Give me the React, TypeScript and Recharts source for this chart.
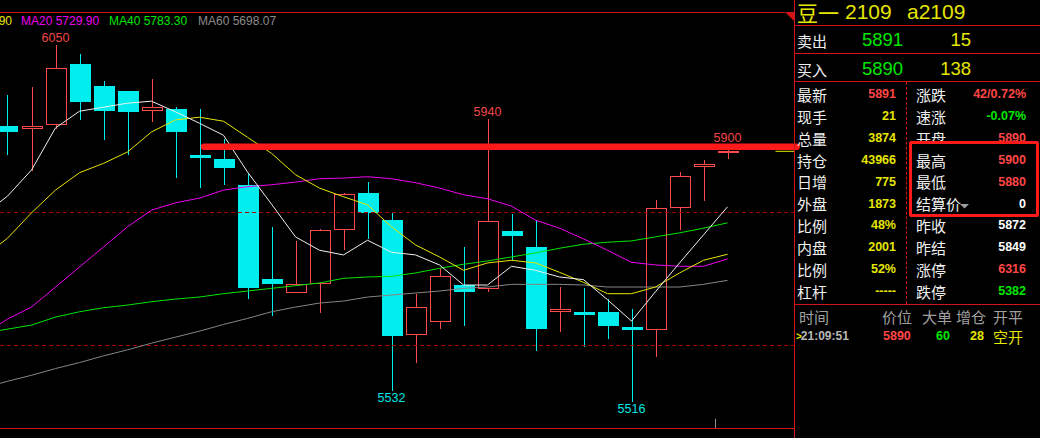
import React from "react";
import {
  ComposedChart,
  Bar,
  Line,
  XAxis,
  YAxis,
  ReferenceLine,
  ReferenceDot,
} from "recharts";

// slot -1 holds only the moving averages that run in from the left edge
const slots = [-1, 0, 1, 2, 3, 4, 5, 6, 7, 8, 9, 10, 11, 12, 13, 14, 15, 16, 17, 18, 19, 20, 21, 22, 23, 24, 25, 26, 27, 28, 29, 30];

const open = [5929, 5925, 5931, 6022, 5989, 5981, 5951, 5954, 5885, 5880, 5841, 5700, 5679, 5693, 5773, 5828, 5788, 5616, 5635, 5691, 5685, 5772, 5748, 5650, 5651, 5651, 5628, 5623, 5806, 5868, 5890];
const high = [5975, 5987, 6050, 6037, 5996, 5981, 5999, 5957, 5955, 5910, 5857, 5778, 5757, 5775, 5828, 5845, 5800, 5677, 5716, 5748, 5940, 5797, 5787, 5688, 5686, 5670, 5655, 5818, 5860, 5878, 5900];
const low = [5885, 5862, 5925, 5938, 5908, 5885, 5935, 5851, 5836, 5841, 5670, 5644, 5679, 5649, 5743, 5760, 5532, 5575, 5625, 5630, 5681, 5728, 5593, 5621, 5599, 5610, 5516, 5584, 5773, 5816, 5880];
const close = [5920, 5929, 6016, 5965, 5952, 5950, 5957, 5920, 5881, 5866, 5687, 5692, 5693, 5773, 5827, 5799, 5614, 5658, 5705, 5680, 5787, 5765, 5625, 5655, 5646, 5629, 5623, 5806, 5854, 5872, 5891];

const ma5 = [5796, 5824, 5863, 5926, 5951, 5957, 5963, 5966, 5950, 5933, 5915, 5860, 5812, 5763, 5743, 5736, 5758, 5740, 5736, 5721, 5691, 5691, 5719, 5713, 5703, 5699, 5669, 5637, 5681, 5724, 5766, 5808];
const ma10 = [5733, 5761, 5799, 5833, 5859, 5873, 5890, 5920, 5938, 5942, 5936, 5912, 5888, 5856, 5836, 5823, 5811, 5778, 5751, 5733, 5713, 5724, 5728, 5724, 5710, 5695, 5678, 5678, 5688, 5709, 5728, 5737];
const ma20 = [5617, 5640, 5658, 5688, 5718, 5748, 5778, 5803, 5814, 5821, 5833, 5838, 5841, 5845, 5850, 5851, 5853, 5850, 5844, 5836, 5826, 5820, 5809, 5788, 5776, 5760, 5743, 5725, 5721, 5719, 5719, 5730];
const ma40 = [5619, 5625, 5631, 5643, 5651, 5657, 5661, 5666, 5670, 5673, 5678, 5682, 5686, 5690, 5694, 5701, 5703, 5704, 5709, 5716, 5722, 5727, 5733, 5739, 5746, 5752, 5755, 5757, 5763, 5769, 5776, 5784];
const ma60 = [5537, 5547, 5556, 5566, 5575, 5585, 5594, 5604, 5613, 5622, 5632, 5641, 5651, 5658, 5664, 5667, 5673, 5676, 5679, 5682, 5686, 5688, 5692, 5692, 5692, 5691, 5688, 5688, 5688, 5688, 5692, 5698];

const legendCut = "MA10 5736.90";
const legendItems = [
  { text: "MA20 5729.90", color: "#f000f0", x: 21 },
  { text: "MA40 5783.30", color: "#00e600", x: 109 },
  { text: "MA60 5698.07", color: "#8c8c8c", x: 198 },
];

const highMarks = [2, 20, 30];
const lowMarks = [16, 26];
const guideLevels = [5800, 5600];
const drawnLevel = 5898;
const lastPrice = 5891;

const quoteName = "豆一";
const quoteCode = "2109";
const quoteSym = "a2109";
const askRow = { label: "卖出", price: "5891", vol: "15" };
const bidRow = { label: "买入", price: "5890", vol: "138" };

const leftRows = [
  ["最新", "5891", "red"],
  ["现手", "21", "yellow"],
  ["总量", "3874", "yellow"],
  ["持仓", "43966", "yellow"],
  ["日增", "775", "yellow"],
  ["外盘", "1873", "yellow"],
  ["比例", "48%", "yellow"],
  ["内盘", "2001", "yellow"],
  ["比例", "52%", "yellow"],
  ["杠杆", "-----", "yellow"],
];
const rightRows = [
  ["涨跌", "42/0.72%", "red"],
  ["速涨", "-0.07%", "green"],
  ["开盘", "5890", "red"],
  ["最高", "5900", "red"],
  ["最低", "5880", "red"],
  ["结算价", "0", "white"],
  ["昨收", "5872", "white"],
  ["昨结", "5849", "white"],
  ["涨停", "6316", "red"],
  ["跌停", "5382", "green"],
];
const tradeHead = ["时间", "价位", "大单", "增仓", "开平"];
const trade = { time: "21:09:51", price: "5890", big: "60", add: "28", kind: "空开" };

const COLORS: Record<string, string> = {
  red: "#ff4646",
  yellow: "#e6e600",
  green: "#00e600",
  white: "#ffffff",
};
const UP = "#ff4a4a";
const DOWN = "#00eeee";
const FRAME = "#d41414";
const LATIN = '"Liberation Sans", Arial, sans-serif';
const CJK = '"Noto Sans CJK SC", sans-serif';

const data = slots.map((s, k) => {
  const row: any = { slot: s, ma5: ma5[k], ma10: ma10[k], ma20: ma20[k], ma40: ma40[k], ma60: ma60[k] };
  if (s >= 0) {
    row.open = open[s];
    row.high = high[s];
    row.low = low[s];
    row.close = close[s];
    row.range = [low[s], high[s]];
  }
  return row;
});

function Candle(props: any) {
  const { x, y, width, height, payload } = props;
  if (!payload || payload.open == null || !isFinite(y)) return <g />;
  const { open: o, close: c, high: h, low: l } = payload;
  const top = Math.min(y, y + height);
  const span = Math.abs(height);
  const toY = (p: number) => top + ((h - p) / (h - l)) * span;
  const cx = Math.floor(x + width / 2) + 0.5;
  const yH = Math.round(toY(h));
  const yL = Math.round(toY(l));
  const bTop = Math.round(Math.min(toY(o), toY(c)));
  const bBot = Math.round(Math.max(toY(o), toY(c)));
  if (c >= o) {
    return (
      <g shapeRendering="crispEdges">
        <line x1={cx} x2={cx} y1={yH} y2={bTop} stroke={UP} />
        <line x1={cx} x2={cx} y1={bBot} y2={yL} stroke={UP} />
        <rect x={cx - 10} y={bTop + 0.5} width={20} height={Math.max(bBot - bTop - 1, 1)} fill="#000" stroke={UP} />
      </g>
    );
  }
  return (
    <g shapeRendering="crispEdges">
      <line x1={cx} x2={cx} y1={yH} y2={yL} stroke={DOWN} />
      <rect x={cx - 10.5} y={bTop} width={21} height={Math.max(bBot - bTop, 2)} fill={DOWN} />
    </g>
  );
}

function T({ x, right, cy, size, color, bold, cjk, children }: any) {
  const style: React.CSSProperties = {
    position: "absolute",
    top: cy - size / 2,
    height: size,
    lineHeight: `${size}px`,
    fontSize: size,
    color,
    whiteSpace: "nowrap",
    fontWeight: bold ? 700 : 400,
    fontFamily: cjk ? CJK : LATIN,
  };
  if (right != null) style.right = 1040 - right;
  else style.left = x;
  return <div style={style}>{children}</div>;
}

function Rule({ x, y, w, h, color, dashed }: any) {
  return (
    <div
      style={{
        position: "absolute",
        left: x,
        top: y,
        width: dashed ? 0 : w,
        height: h,
        background: dashed ? "none" : color,
        borderLeft: dashed ? `1px dashed ${color}` : "none",
      }}
    />
  );
}

const rowY = (k: number) => 94.3 + 21.9 * k;

export default function App() {
  return (
    <div style={{ position: "fixed", left: 0, top: 0, width: 1040, height: 438, background: "#000", overflow: "hidden" }}>
      <div style={{ position: "absolute", left: 0, top: 0 }}>
        <ComposedChart width={810} height={438} data={data} margin={{ top: 12, right: 16, bottom: 10, left: 0 }}>
          <XAxis type="number" dataKey="slot" domain={[-0.3125, 32.7708]} allowDataOverflow hide />
          <YAxis type="number" domain={[5477.1, 6099.4]} allowDataOverflow hide />
          {guideLevels.map((v) => (
            <ReferenceLine key={v} y={v} stroke="#a80000" strokeDasharray="4 3" shapeRendering="crispEdges" />
          ))}
          <Bar dataKey="range" barSize={21} shape={(p: any) => <Candle {...p} />} isAnimationActive={false} />
          <Line dataKey="ma60" stroke="#858585" strokeWidth={1} dot={false} activeDot={false} isAnimationActive={false} />
          <Line dataKey="ma40" stroke="#00e600" strokeWidth={1} dot={false} activeDot={false} isAnimationActive={false} />
          <Line dataKey="ma20" stroke="#f000f0" strokeWidth={1} dot={false} activeDot={false} isAnimationActive={false} />
          <Line dataKey="ma10" stroke="#e6e600" strokeWidth={1} dot={false} activeDot={false} isAnimationActive={false} />
          <Line dataKey="ma5" stroke="#f0f0f0" strokeWidth={1} dot={false} activeDot={false} isAnimationActive={false} />
          <ReferenceLine
            segment={[{ x: 8.19, y: drawnLevel }, { x: 32.88, y: drawnLevel }]}
            stroke="#ff1a1a"
            strokeWidth={6.5}
            strokeLinecap="round"
            ifOverflow="visible"
          />
          <ReferenceLine
            segment={[{ x: 32, y: lastPrice }, { x: 32.8, y: lastPrice }]}
            stroke="#e6e600"
            ifOverflow="visible"
          />
          <ReferenceLine
            segment={[{ x: 29.5, y: 5477.1 }, { x: 29.5, y: 5491 }]}
            stroke="#909090"
            ifOverflow="visible"
          />
          {highMarks.map((s) => (
            <ReferenceDot
              key={"h" + s}
              x={s}
              y={high[s]}
              r={0}
              fill="none"
              stroke="none"
              ifOverflow="visible"
              label={{ value: String(high[s]), position: "top", offset: 3, fill: "#f04848", fontSize: 12.5, fontFamily: LATIN }}
            />
          ))}
          {lowMarks.map((s) => (
            <ReferenceDot
              key={"l" + s}
              x={s}
              y={low[s]}
              r={0}
              fill="none"
              stroke="none"
              ifOverflow="visible"
              label={{ value: String(low[s]), position: "bottom", offset: 2, fill: "#00e6e6", fontSize: 12.5, fontFamily: LATIN }}
            />
          ))}
        </ComposedChart>
      </div>

      {/* chart frame */}
      <Rule x={0} y={12} w={785} h={1} color={FRAME} />
      <Rule x={0} y={428} w={794} h={1} color={FRAME} />
      <svg style={{ position: "absolute", left: 785, top: 12 }} width={10} height={11}>
        <polygon points="0,0 10,0 10,10" fill={FRAME} />
      </svg>

      {/* legend */}
      <T right={12} cy={21} size={12} color="#e6e600">{legendCut}</T>
      {legendItems.map((it) => (
        <T key={it.text} x={it.x} cy={21} size={12} color={it.color}>{it.text}</T>
      ))}

      {/* quote panel */}
      <Rule x={794} y={0} w={1} h={438} color={FRAME} />
      <Rule x={794} y={25} w={246} h={1} color={FRAME} />
      <Rule x={794} y={53} w={246} h={1} color={FRAME} />
      <Rule x={794} y={81} w={246} h={1} color={FRAME} />
      <Rule x={794} y={304} w={246} h={1} color={FRAME} />
      <Rule x={906} y={82} h={222} color={FRAME} dashed />

      <T x={797} cy={12} size={21} color="#e6e600" cjk>{quoteName}</T>
      <T x={845} cy={11.5} size={21} color="#e6e600">{quoteCode}</T>
      <T x={907} cy={11.5} size={21} color="#e6e600">{quoteSym}</T>

      <T x={797} cy={40} size={15} color="#f0f0f0" cjk>{askRow.label}</T>
      <T x={862} cy={40.5} size={18.5} color="#00e600">{askRow.price}</T>
      <T right={971} cy={40.5} size={18.5} color="#e6e600">{askRow.vol}</T>
      <T x={797} cy={69} size={15} color="#f0f0f0" cjk>{bidRow.label}</T>
      <T x={862} cy={69} size={18.5} color="#00e600">{bidRow.price}</T>
      <T right={971} cy={69} size={18.5} color="#e6e600">{bidRow.vol}</T>

      {leftRows.map(([label, value, tone], k) => (
        <React.Fragment key={"l" + k}>
          <T x={797} cy={rowY(k)} size={15} color="#f0f0f0" cjk>{label}</T>
          <T right={896} cy={rowY(k)} size={12.5} color={COLORS[tone]} bold>{value}</T>
        </React.Fragment>
      ))}
      {rightRows.slice(0, 3).map(([label, value, tone], k) => (
        <React.Fragment key={"r" + k}>
          <T x={916} cy={rowY(k)} size={15} color="#f0f0f0" cjk>{label}</T>
          <T right={1026} cy={rowY(k)} size={12.5} color={COLORS[tone]} bold>{value}</T>
        </React.Fragment>
      ))}
      <div
        style={{
          position: "absolute",
          left: 909,
          top: 141,
          width: 124,
          height: 70,
          border: "3px solid #ff1a1a",
          borderRadius: 2,
          background: "#000",
        }}
      />
      {rightRows.slice(3).map(([label, value, tone], j) => {
        const k = j + 3;
        return (
          <React.Fragment key={"r" + k}>
            <T x={916} cy={rowY(k)} size={15} color="#f0f0f0" cjk>{label}</T>
            <T right={1026} cy={rowY(k)} size={12.5} color={COLORS[tone]} bold>{value}</T>
          </React.Fragment>
        );
      })}
      <svg style={{ position: "absolute", left: 960, top: 204 }} width={9} height={5}>
        <polygon points="0,0 9,0 4.5,4.5" fill="#a0a0a0" />
      </svg>

      {tradeHead.map((h, i) => (
        <T key={h} x={[799, 882, 922, 956, 993][i]} cy={316} size={15} color="#a0a0a0" cjk>{h}</T>
      ))}
      <T x={796} cy={336} size={12} color="#b8b8b8" bold>
        <span style={{ color: "#e6e600", fontSize: 10, marginRight: -1 }}>{">"}</span>
        {trade.time}
      </T>
      <T x={883} cy={336} size={12.5} color="#ff4646" bold>{trade.price}</T>
      <T x={936} cy={336} size={12.5} color="#00e600" bold>{trade.big}</T>
      <T x={970} cy={336} size={12.5} color="#e6e600" bold>{trade.add}</T>
      <T x={993} cy={336} size={15} color="#e6e600" cjk>{trade.kind}</T>
    </div>
  );
}
